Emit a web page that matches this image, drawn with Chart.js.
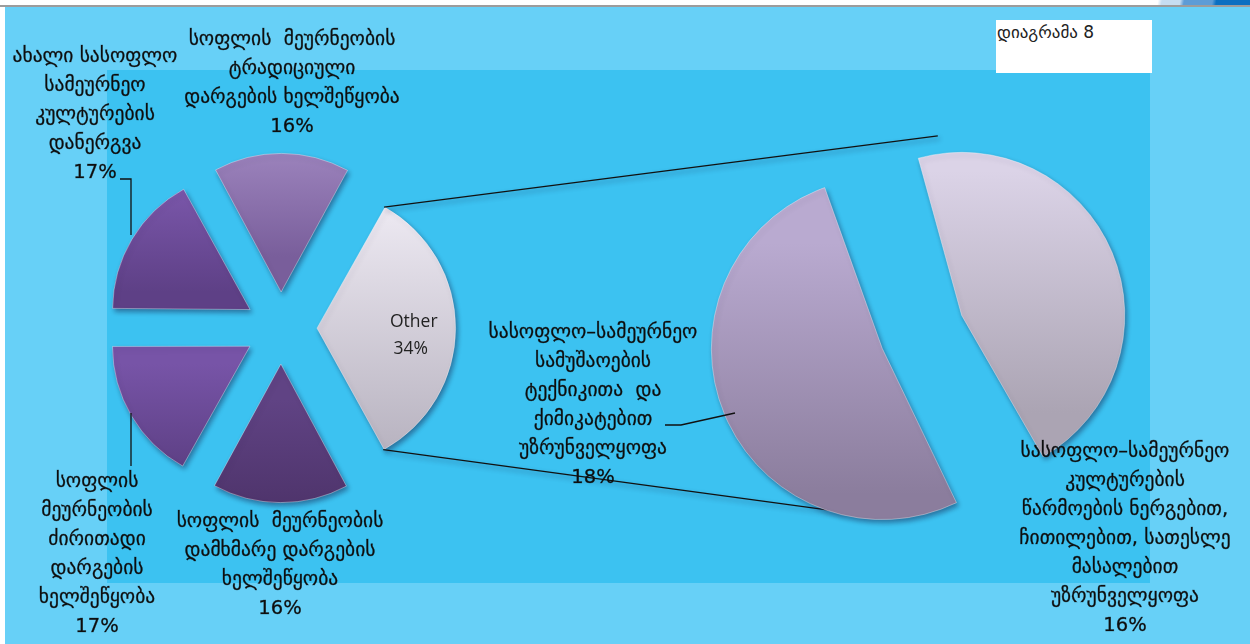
<!DOCTYPE html>
<html>
<head>
<meta charset="utf-8">
<script src="https://cdn.jsdelivr.net/npm/chart.js@4.4.1/dist/chart.umd.min.js"></script>
<style>
  body { margin: 0; }
  #frame { position: relative; width: 1250px; height: 644px; background: #fff; overflow: hidden; }
  #deco { position: absolute; left: 1150px; top: 0; width: 100px; height: 5px;
          background: linear-gradient(100deg, #fff 0 8%, #c6ddf1 12% 30%, #5d9cd6 34% 62%, #0b6fc1 66%); }
  #rule { position: absolute; left: 0; top: 5px; width: 1250px; height: 2px; background: #9c9c9c; }
  #outer { position: absolute; left: 5px; top: 7px; right: 0; bottom: 0; background: #67d0f7; }
  #plot { position: absolute; left: 107px; top: 70px; width: 1043px; height: 513px; background: #3cc2f1; }
  #title { position: absolute; left: 996px; top: 20px; width: 156px; height: 53px; background: #fff;
           font: 17px "DejaVu Sans"; color: #222; padding: 2px 0 0 1px; box-sizing: border-box; }
  canvas { position: absolute; left: 0; top: 0; }
</style>
</head>
<body>
<div id="frame">
  <div id="deco"></div>
  <div id="rule"></div>
  <div id="outer"></div>
  <div id="plot"></div>
  <div id="title">დიაგრამა 8</div>
  <canvas id="mainPie" width="1250" height="644"></canvas>
  <canvas id="subPie" width="1250" height="644"></canvas>
</div>
<script>
// main pie, clockwise from the "Other" slice
const mainLabels = [
  'Other',
  'სოფლის  მეურნეობის\nდამხმარე დარგების\nხელშეწყობა',
  'სოფლის\nმეურნეობის\nძირითადი\nდარგების\nხელშეწყობა',
  'ახალი სასოფლო\nსამეურნეო\nკულტურების\nდანერგვა',
  'სოფლის  მეურნეობის\nტრადიციული\nდარგების ხელშეწყობა'
];
const mainValues = [34, 16, 17, 17, 16];

// second pie: the split of "Other"
const subLabels = [
  'სასოფლო–სამეურნეო\nკულტურების\nწარმოების ნერგებით,\nჩითილებით, სათესლე\nმასალებით\nუზრუნველყოფა',
  'სასოფლო–სამეურნეო\nსამუშაოების\nტექნიკითა  და\nქიმიკატებით\nუზრუნველყოფა'
];
const subValues = [16, 18];

const mainColors = [
  ['#ece8f1', '#b9b4c1'],
  ['#604384', '#4a3065'],
  ['#7754a7', '#5a3d80'],
  ['#7e5aaf', '#5e4086'],
  ['#a58dc5', '#795e9b']
];
const subColors = [
  ['#dbd3e7', '#aba4b3'],
  ['#b9aad0', '#8b7d9d']
];

// label placement (centre x, first line y) in page pixels
const mainLabelPos = [null, [280, 522], [97, 482], [95, 57], [292, 40]];
const subLabelPos = [[1125, 452], [593, 333]];
const lineH = 29;
const geoFont = '19.5px "DejaVu Sans"';

function sliceGradient(context, values, rotation, shift, colors) {
  const chart = context.chart;
  const i = context.dataIndex;
  const area = chart.chartArea;
  if (!area || i === undefined) return colors[i || 0][0];
  const r = chart.options.radius;
  const cx = (area.left + area.right) / 2, cy = (area.top + area.bottom) / 2;
  const total = values.reduce((s, v) => s + v, 0);
  let a0 = (rotation - 90) * Math.PI / 180;
  for (let k = 0; k < i; k++) a0 += values[k] / total * 2 * Math.PI;
  const a1 = a0 + values[i] / total * 2 * Math.PI;
  const mid = (a0 + a1) / 2;
  const oy = cy + Math.sin(mid) * shift;
  let top = oy, bot = oy;
  for (let s = 0; s <= 24; s++) {
    const y = oy + Math.sin(a0 + (a1 - a0) * s / 24) * r;
    top = Math.min(top, y); bot = Math.max(bot, y);
  }
  const g = chart.ctx.createLinearGradient(0, top, 0, bot + 1);
  g.addColorStop(0, colors[i][0]);
  g.addColorStop(1, colors[i][1]);
  return g;
}

const shadow = {
  id: 'shadow',
  beforeDatasetsDraw(chart) {
    const c = chart.ctx;
    c.save();
    c.shadowColor = 'rgba(20,20,60,0.45)';
    c.shadowBlur = 5;
    c.shadowOffsetX = 2;
    c.shadowOffsetY = 3;
  },
  afterDatasetsDraw(chart) { chart.ctx.restore(); }
};

function drawBlock(c, text, x, y) {
  text.split('\n').forEach((line, n) => {
    c.fillText(line, x, y + n * lineH);
    c.strokeText(line, x, y + n * lineH);
  });
}

function drawPolyline(c, pts) {
  c.beginPath();
  c.moveTo(pts[0][0], pts[0][1]);
  pts.slice(1).forEach(p => c.lineTo(p[0], p[1]));
  c.stroke();
}

function geoText(c) {
  c.fillStyle = '#0e0e0e';
  c.strokeStyle = 'rgba(14,14,14,0.55)';
  c.lineWidth = 0.5;
  c.textAlign = 'center';
  c.textBaseline = 'middle';
  c.font = geoFont;
}

const mainText = {
  id: 'mainText',
  afterDraw(chart) {
    const c = chart.ctx;
    c.save();
    geoText(c);
    mainLabels.forEach((name, i) => {
      const pos = mainLabelPos[i];
      if (!pos) return;
      drawBlock(c, name + '\n' + mainValues[i] + '%', pos[0], pos[1]);
    });
    // "Other" sits inside its slice
    const el = chart.getDatasetMeta(0).data[0];
    const mid = (el.startAngle + el.endAngle) / 2;
    const d = chart.options.offset / 4 + el.outerRadius * 0.72;
    const ox = el.x + Math.cos(mid) * d, oy = el.y + Math.sin(mid) * d;
    c.font = '17.5px "Open Sans"';
    c.fillStyle = '#222';
    c.fillText(mainLabels[0], ox + 1, oy - 6);
    c.fillText(mainValues[0] + '%', ox - 2, oy + 21);
    // leader lines
    c.strokeStyle = '#111';
    c.lineWidth = 1.3;
    drawPolyline(c, [[120, 179], [131, 179], [131, 235]]);
    drawPolyline(c, [[131, 413], [131, 466]]);
    c.restore();
  }
};

const mainChart = new Chart(document.getElementById('mainPie'), {
  type: 'pie',
  data: {
    labels: mainLabels,
    datasets: [{
      data: mainValues,
      backgroundColor: ctx => sliceGradient(ctx, mainValues, 29, 36, mainColors),
      borderWidth: 1,
      borderColor: 'rgba(255,255,255,0.35)'
    }]
  },
  options: {
    responsive: false,
    animation: false,
    rotation: 29,
    radius: 133,
    offset: 144,
    layout: { padding: { left: 0, right: 688, top: 12, bottom: 0 } },
    plugins: { legend: { display: false }, tooltip: { enabled: false } }
  },
  plugins: [shadow, mainText]
});

const subText = {
  id: 'subText',
  beforeDatasetsDraw(chart) {
    // connector lines from the "Other" slice to the second pie
    const c = chart.ctx;
    const o = mainChart.getDatasetMeta(0).data[0];
    const t = mainChart.options.offset / 4;
    const mid = (o.startAngle + o.endAngle) / 2;
    const R = o.outerRadius + t * 0.15;
    const ox = o.x + Math.cos(mid) * t, oy = o.y + Math.sin(mid) * t;
    const s = chart.getDatasetMeta(0).data[0];
    const reach = s.outerRadius + chart.options.offset / 4 * 1.6;
    const aTop = s.startAngle + 22 * Math.PI / 180;
    const aBot = s.endAngle + 52 * Math.PI / 180;
    c.save();
    c.strokeStyle = '#111';
    c.lineWidth = 1.3;
    drawPolyline(c, [[ox + Math.cos(o.startAngle) * R, oy + Math.sin(o.startAngle) * R],
                     [s.x + Math.cos(aTop) * reach, s.y + Math.sin(aTop) * reach]]);
    drawPolyline(c, [[ox + Math.cos(o.endAngle) * R, oy + Math.sin(o.endAngle) * R],
                     [s.x + Math.cos(aBot) * reach, s.y + Math.sin(aBot) * reach]]);
    c.restore();
  },
  afterDraw(chart) {
    const c = chart.ctx;
    c.save();
    geoText(c);
    subLabels.forEach((name, i) => {
      const pos = subLabelPos[i];
      drawBlock(c, name + '\n' + subValues[i] + '%', pos[0], pos[1]);
    });
    c.strokeStyle = '#111';
    c.lineWidth = 1.3;
    drawPolyline(c, [[665, 425], [681, 425], [735, 413]]);
    c.restore();
  }
};

const subChart = new Chart(document.getElementById('subPie'), {
  type: 'pie',
  data: {
    labels: subLabels,
    datasets: [{
      data: subValues,
      backgroundColor: ctx => sliceGradient(ctx, subValues, -17.4, 43, subColors),
      borderWidth: 1,
      borderColor: 'rgba(255,255,255,0.35)'
    }]
  },
  options: {
    responsive: false,
    animation: false,
    rotation: -17.4,
    radius: 128,
    offset: 172,
    layout: { padding: { left: 594, right: 0, top: 20, bottom: 0 } },
    plugins: { legend: { display: false }, tooltip: { enabled: false } }
  },
  plugins: [shadow, subText]
});
</script>
</body>
</html>
